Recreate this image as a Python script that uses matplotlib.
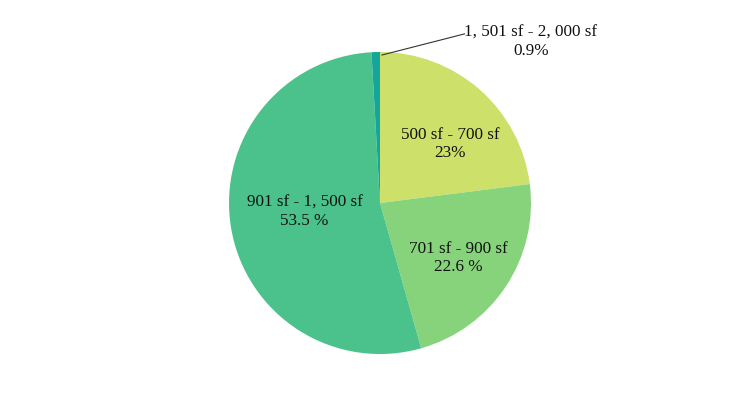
import matplotlib
matplotlib.use("Agg")
import matplotlib.pyplot as plt
import numpy as np

categories = ["500 sf - 700 sf", "701 sf - 900 sf", "901 sf - 1, 500 sf", "1, 501 sf - 2, 000 sf"]
values = [23.0, 22.6, 53.5, 0.9]
pct_labels = ["23%", "22.6 %", "53.5 %", "0.9%"]
colors = ["#cde06a", "#86d37b", "#4bc28c", "#14a69a"]

plt.rcParams['font.family'] = ['Liberation Serif', 'DejaVu Serif']

fig = plt.figure(figsize=(7.5, 3.94), dpi=100)
W, H = 750, 394
cx, cy, r = 380, 394 - 203, 151
ax = fig.add_axes([(cx - r) / W, (cy - r) / H, 2 * r / W, 2 * r / H])
wedges, _ = ax.pie(values, colors=colors, startangle=90, counterclock=False,
                   radius=1.0, wedgeprops=dict(linewidth=0))
ax.set_xlim(-1, 1)
ax.set_ylim(-1, 1)
ax.set_aspect('equal')
ax.axis('off')

label_pos = [(0.464, 0.391), (0.517, -0.364), (-0.50, -0.06), (1.0, 1.066)]
for cat, pct, (x, y) in zip(categories, pct_labels, label_pos):
    ax.text(x, y, cat + "\n" + pct, ha='center', va='center', fontsize=12.3,
            color='#111111', linespacing=1.2, clip_on=False)

# leader line for small slice
ax.plot([0.013, 0.56], [0.98, 1.12], color='#333333', lw=0.8, clip_on=False)

fig.savefig("out.png", dpi=100)
